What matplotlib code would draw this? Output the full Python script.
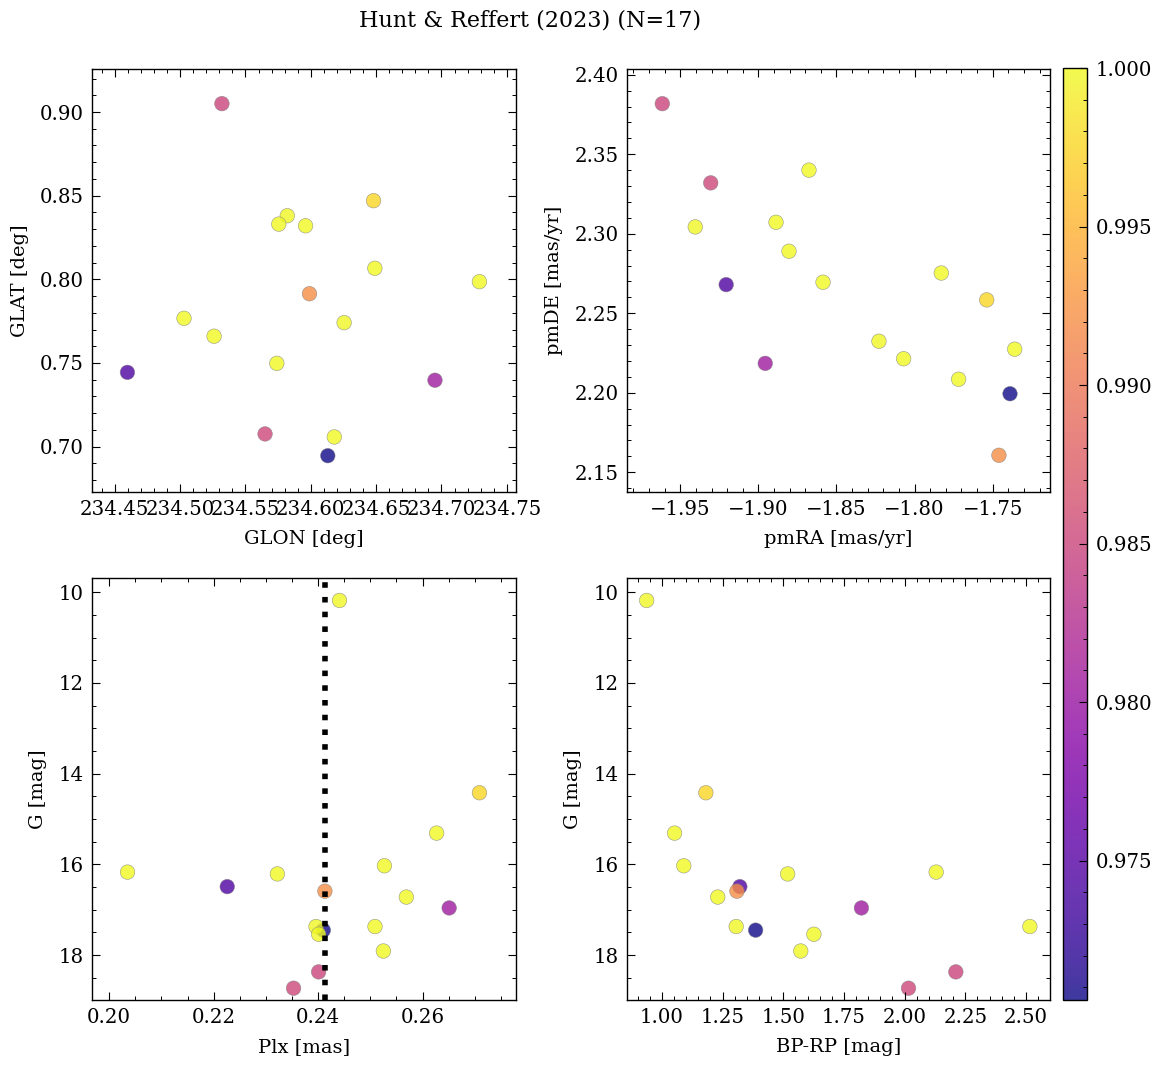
import numpy as np
import matplotlib
matplotlib.use("Agg")
import matplotlib.pyplot as plt
from matplotlib.ticker import AutoMinorLocator, MultipleLocator

# member stars, ordered by membership probability (low -> high)
prob = [0.9706, 0.9745, 0.9806, 0.9850, 0.9854, 0.9920, 0.9975,
        0.9998, 0.9999, 1.0, 1.0, 0.9999, 1.0, 0.9998, 1.0, 1.0, 0.9999]
glon = [234.613, 234.4597, 234.695, 234.532, 234.565, 234.599, 234.648,
        234.582, 234.5755, 234.596, 234.649, 234.729, 234.503, 234.6255,
        234.526, 234.574, 234.618]
glat = [0.6946, 0.7444, 0.7397, 0.905, 0.7076, 0.7914, 0.847,
        0.838, 0.833, 0.832, 0.8066, 0.7986, 0.7767, 0.7741,
        0.766, 0.7498, 0.7058]
pmra = [-1.7389, -1.9206, -1.8956, -1.9615, -1.9305, -1.746, -1.7538,
        -1.9404, -1.8676, -1.8887, -1.8804, -1.8586, -1.7829, -1.8228,
        -1.7359, -1.807, -1.7718]
pmde = [2.1994, 2.268, 2.2185, 2.3818, 2.332, 2.1607, 2.2584,
        2.3043, 2.340, 2.3072, 2.289, 2.2695, 2.2753, 2.2324,
        2.2274, 2.2214, 2.2085]
plx = [0.2410, 0.2226, 0.2651, 0.2401, 0.2353, 0.2413, 0.2709,
       0.2441, 0.2627, 0.2527, 0.2035, 0.2322, 0.2569, 0.2396,
       0.2509, 0.2401, 0.2525]
gmag = [17.45, 16.49, 16.96, 18.37, 18.73, 16.59, 14.42,
        10.18, 15.31, 16.03, 16.17, 16.21, 16.72, 17.37,
        17.37, 17.54, 17.91]
bprp = [1.386, 1.321, 1.822, 2.211, 2.016, 1.309, 1.181,
        0.937, 1.052, 1.090, 2.130, 1.518, 1.230, 1.306,
        2.516, 1.626, 1.572]
plx_mean = 0.24135

plt.rcParams["font.family"] = ["DejaVu Serif"]
plt.rcParams["font.size"] = 14
for a in ("xtick", "ytick"):
    plt.rcParams[f"{a}.direction"] = "in"
    plt.rcParams[f"{a}.major.size"] = 5.5
    plt.rcParams[f"{a}.minor.size"] = 2.8
    plt.rcParams[f"{a}.major.width"] = 0.8
    plt.rcParams[f"{a}.minor.width"] = 0.7
    plt.rcParams[f"{a}.labelsize"] = 14.2
    plt.rcParams[f"{a}.major.pad"] = 6
plt.rcParams["xtick.top"] = True
plt.rcParams["ytick.right"] = True
plt.rcParams["axes.linewidth"] = 1.0
plt.rcParams["axes.labelpad"] = 8

W, H = 1161, 1067
fig = plt.figure(figsize=(W / 100, H / 100), dpi=100)

def box(l, t, r, b):
    return [l / W, 1 - b / H, (r - l) / W, (b - t) / H]

ax1 = fig.add_axes(box(92, 69, 516, 492))
ax2 = fig.add_axes(box(627, 69, 1050, 492))
ax3 = fig.add_axes(box(92, 578, 516, 1000))
ax4 = fig.add_axes(box(627, 578, 1050, 1000))
cax = fig.add_axes(box(1063, 68, 1087, 1000))

kw = dict(c=prob, cmap="plasma", s=110, alpha=0.8, edgecolors="gray", linewidths=0.4)
sc = ax1.scatter(glon, glat, **kw)
ax2.scatter(pmra, pmde, **kw)
ax3.scatter(plx, gmag, **kw)
ax4.scatter(bprp, gmag, **kw)
ax3.axvline(plx_mean, color="black", ls=":", lw=4)

ax1.set_xlim(234.4326, 234.757)
ax1.set_ylim(0.6729, 0.9257)
ax2.set_xlim(-1.9841, -1.7133)
ax2.set_ylim(2.1376, 2.4036)
ax3.set_xlim(0.1967, 0.2779)
ax4.set_xlim(0.856, 2.599)
for ax in (ax3, ax4):
    ax.set_ylim(18.99, 9.685)

ax1.set_xlabel("GLON [deg]")
ax1.set_ylabel("GLAT [deg]")
ax2.set_xlabel("pmRA [mas/yr]")
ax2.set_ylabel("pmDE [mas/yr]")
ax3.set_xlabel("Plx [mas]")
ax3.set_ylabel("G [mag]")
ax4.set_xlabel("BP-RP [mag]")
ax4.set_ylabel("G [mag]")

for ax in (ax1, ax2, ax3, ax4):
    ax.xaxis.set_minor_locator(AutoMinorLocator())
    ax.yaxis.set_minor_locator(AutoMinorLocator())
ax1.xaxis.set_major_locator(MultipleLocator(0.05))

cb = fig.colorbar(sc, cax=cax)
cb.solids.set_alpha(0.8)
cb.ax.yaxis.set_minor_locator(AutoMinorLocator())
cb.ax.tick_params(which="both", direction="in", pad=6)
cb.outline.set_linewidth(1.0)

fig.suptitle("Hunt & Reffert (2023) (N=17)", x=530 / W, y=1 - 20 / H,
             va="center", fontsize=16)
fig.savefig("out.png", dpi=100)
